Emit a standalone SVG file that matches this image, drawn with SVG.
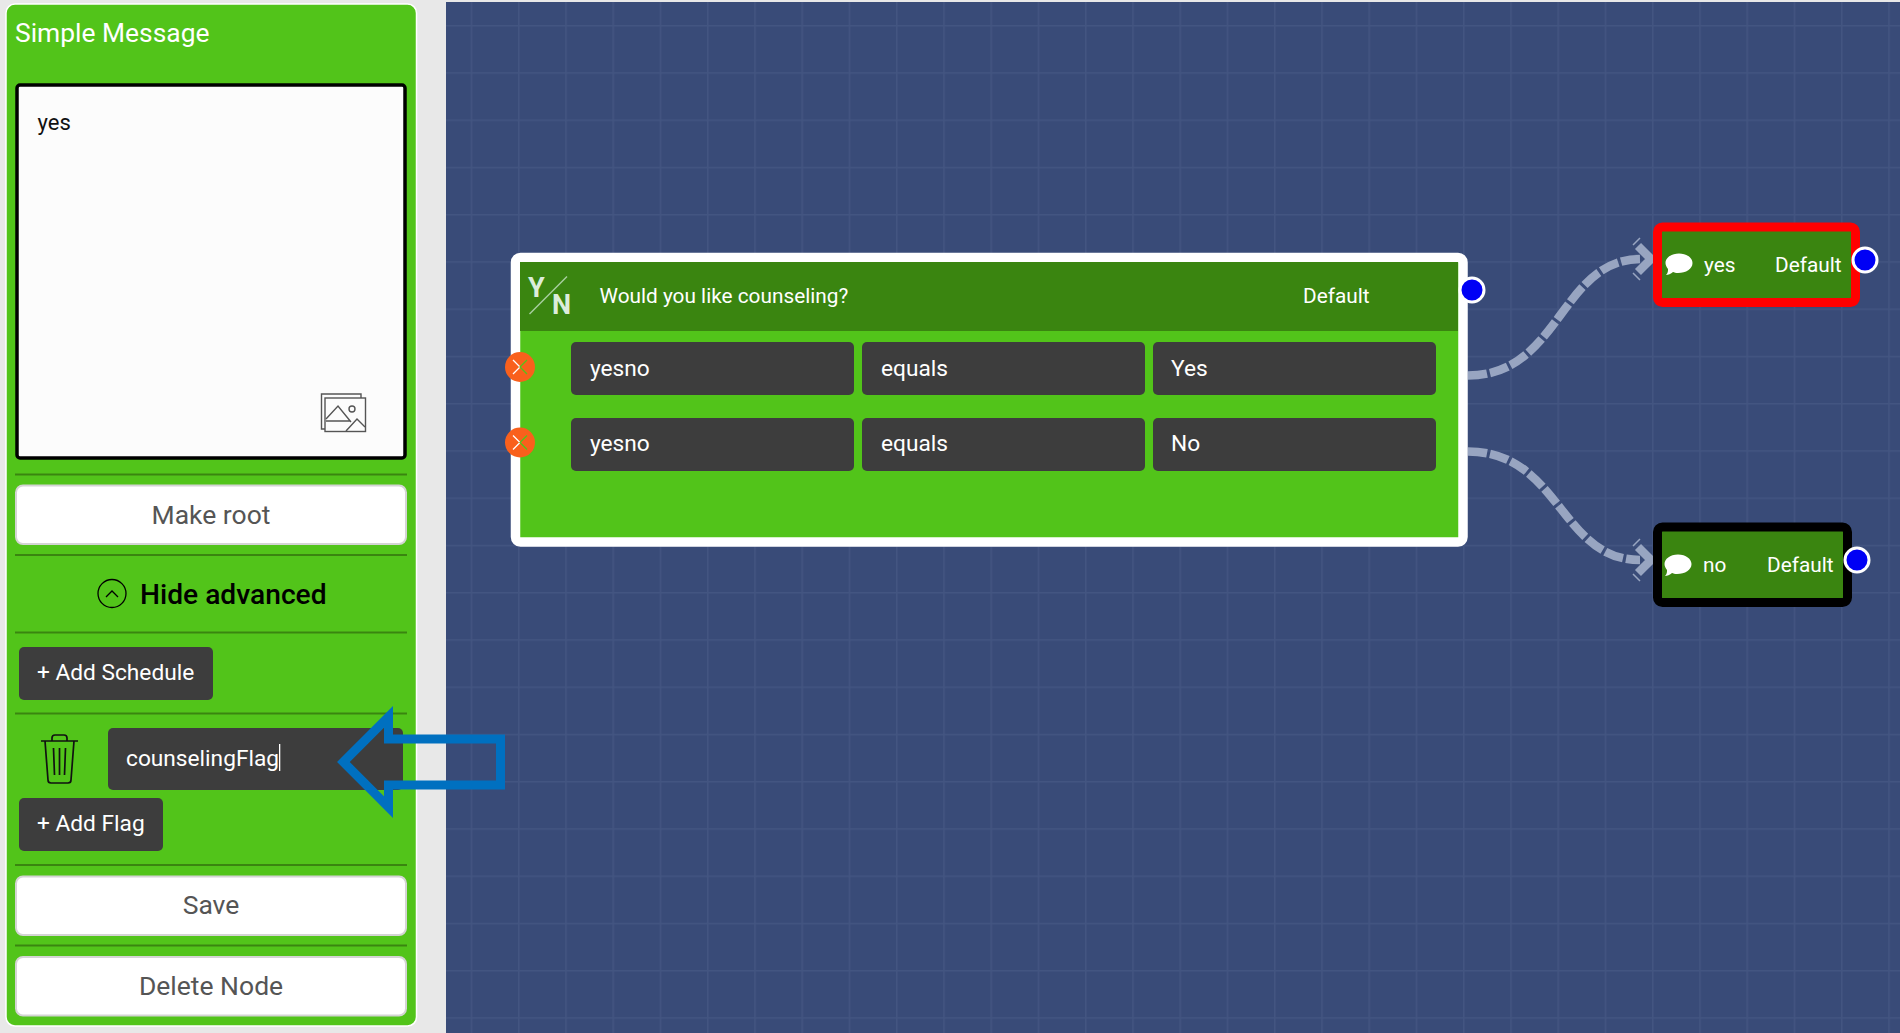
<svg xmlns="http://www.w3.org/2000/svg" width="1900" height="1033" viewBox="0 0 1900 1033">
<style>
text{font-family:Roboto,"Liberation Sans",sans-serif;fill:#fff}
.btn{fill:#fff;stroke:#d4d4d4;stroke-width:2}
.btxt{font-size:26.500px;fill:#555;text-anchor:middle}
.dark{fill:#3d3d3d}
.div{stroke:#3a8510;stroke-width:2}
.t23{font-size:22.700px}
.t20{font-size:20.800px}
.t24{font-size:22.700px}
.conn{fill:none;stroke:#98a5c1;stroke-width:8.500;stroke-dasharray:19 3}
.head{fill:none;stroke:#98a5c1;stroke-width:8.500}
.tick{fill:none;stroke:#98a5c1;stroke-width:1.500}
.port{fill:#0000f5;stroke:#fff;stroke-width:3}
.oport{fill:#f9601c}
.hdr{fill:#3a8510}
.ic{fill:none;stroke:#555;stroke-width:1.400}
</style>
<defs>
<pattern id="grid" x="470.7" y="25" width="47.25" height="47.25" patternUnits="userSpaceOnUse">
<rect width="47.25" height="47.25" fill="#394b78"/>
<path d="M0 0V47.25M0 0H47.25" stroke="#435581" stroke-width="3" fill="none"/>
</pattern>
<path id="bubble" d="M0-10.500C8-10.500 13.500-6 13.500-1C13.500 5 7 9 -1 9C-3 9 -5 8.500 -6 8C-8 10 -11 11 -13 11C-11 9 -11 7 -11 5C-12.500 3 -13.500 1 -13.500 -1C-13.500 -6 -8 -10.500 0 -10.500Z" fill="#fff"/>
</defs>
<rect width="1900" height="1033" fill="#e8e8e8"/>
<rect x="446" y="2" width="1454" height="1031" fill="url(#grid)"/>

<g id="panel">
<rect x="6" y="4" width="410.500" height="1022" rx="9" fill="#52c41a" stroke="#fff" stroke-width="1.500"/>
<text x="15" y="42" font-size="26.400px">Simple Message</text>
<rect x="17" y="85" width="388" height="373" rx="3" fill="#fcfcfc" stroke="#000" stroke-width="3.500"/>
<text x="37.500" y="130" font-size="22px" style="fill:#111">yes</text>
<g id="image-icon" class="ic">
<path d="M361 398V394H321.500V429H325"/>
<rect x="325" y="398" width="40.500" height="33.500"/>
<path d="M326 419L338 406L351 422M346 431L357 419L365 427M326 421H350"/>
<circle cx="352" cy="409" r="3"/>
</g>
<line class="div" x1="15" y1="474.500" x2="407" y2="474.500"/>
<rect class="btn" x="16" y="485.500" width="390" height="58.500" rx="7"/>
<text class="btxt" x="211" y="524">Make root</text>
<line class="div" x1="15" y1="555" x2="407" y2="555"/>
<circle cx="112" cy="593.500" r="14" fill="none" stroke="#000" stroke-width="1.300"/>
<path d="M106 597L112 591L118 597" fill="none" stroke="#000" stroke-width="1.300"/>
<text x="140" y="604" font-size="28.200px" font-weight="500" style="fill:#000">Hide advanced</text>
<line class="div" x1="15" y1="632.500" x2="407" y2="632.500"/>
<rect class="dark" x="19" y="647" width="194" height="53" rx="5"/>
<text x="37" y="680" class="t24">+ Add Schedule</text>
<line class="div" x1="15" y1="713.500" x2="407" y2="713.500"/>
<g id="trash" fill="none" stroke="#111" stroke-width="1.700">
<path d="M41 741H78M52 741V738Q52 735 55 735H64Q67 735 67 738V741M45 741L48 780Q48 783 51 783H68Q71 783 71 780L74 741M53.500 748L54.500 775M59.500 748V775M65.500 748L64.500 775"/>
</g>
<rect class="dark" x="108" y="728" width="295" height="62" rx="5"/>
<text x="126" y="765.500" class="t24">counselingFlag</text>
<rect x="279" y="744" width="1.300" height="27" fill="#fff"/>
<rect class="dark" x="19" y="798" width="144" height="53" rx="5"/>
<text x="37" y="830.500" class="t24">+ Add Flag</text>
<line class="div" x1="15" y1="865" x2="407" y2="865"/>
<rect class="btn" x="16" y="876.500" width="390" height="58.500" rx="7"/>
<text class="btxt" x="211" y="914">Save</text>
<line class="div" x1="15" y1="945.500" x2="407" y2="945.500"/>
<rect class="btn" x="16" y="957" width="390" height="58.500" rx="7"/>
<text class="btxt" x="211" y="995">Delete Node</text>
</g>

<g id="connectors">
<path class="conn" d="M1468 375.500C1560 375.500 1560 260 1640 259"/>
<path class="head" d="M1638 246L1651 259L1638 272"/>
<path class="tick" d="M1633 245L1640 238M1633 273L1640 280"/>
<path class="conn" d="M1468 451.500C1560 451.500 1560 560 1640 560"/>
<path class="head" d="M1638 547L1651 560L1638 573"/>
<path class="tick" d="M1633 546L1640 539M1633 574L1640 581"/>
</g>

<g id="node-question">
<rect x="515.500" y="257.500" width="947.500" height="284.500" rx="5" fill="#52c41a" stroke="#fff" stroke-width="9.500"/>
<rect class="hdr" x="520" y="262" width="938" height="69"/>
<text x="528" y="297" font-size="27px" font-weight="700" style="fill:#dceddb">Y</text>
<text x="552" y="314" font-size="27px" font-weight="700" style="fill:#dceddb">N</text>
<line x1="529.500" y1="314" x2="567" y2="276.500" stroke="#a9cfa0" stroke-width="1.500"/>
<text x="599.500" y="303" class="t20">Would you like counseling?</text>
<text x="1303" y="303" class="t20">Default</text>
<rect class="dark" x="571" y="342" width="283" height="53" rx="5"/>
<rect class="dark" x="862" y="342" width="283" height="53" rx="5"/>
<rect class="dark" x="1153" y="342" width="283" height="53" rx="5"/>
<text x="590" y="376" class="t23">yesno</text>
<text x="881" y="376" class="t23">equals</text>
<text x="1171" y="376" class="t23">Yes</text>
<rect class="dark" x="571" y="418" width="283" height="53" rx="5"/>
<rect class="dark" x="862" y="418" width="283" height="53" rx="5"/>
<rect class="dark" x="1153" y="418" width="283" height="53" rx="5"/>
<text x="590" y="451" class="t23">yesno</text>
<text x="881" y="451" class="t23">equals</text>
<text x="1171" y="451" class="t23">No</text>
<circle class="oport" cx="520" cy="367" r="15"/>
<path d="M513 360L520 367L513 374" fill="none" stroke="#fff" stroke-width="1.300"/>
<path d="M527 360L520 367L527 374" fill="none" stroke="#52c41a" stroke-width="1.300"/>
<circle class="oport" cx="520" cy="442.500" r="15"/>
<path d="M513 435.500L520 442.500L513 449.500" fill="none" stroke="#fff" stroke-width="1.300"/>
<path d="M527 435.500L520 442.500L527 449.500" fill="none" stroke="#52c41a" stroke-width="1.300"/>
<circle class="port" cx="1472" cy="290" r="12"/>
</g>

<g id="node-yes">
<rect x="1657.500" y="227" width="198" height="75.500" rx="5" fill="#3a8510" stroke="#f00" stroke-width="9"/>
<use href="#bubble" x="1679" y="264"/>
<text x="1704" y="272" class="t20">yes</text>
<text x="1775" y="272" class="t20">Default</text>
<circle class="port" cx="1865" cy="260" r="12"/>
</g>

<g id="node-no">
<rect x="1657.500" y="527" width="190" height="75.500" rx="5" fill="#3a8510" stroke="#000" stroke-width="9"/>
<use href="#bubble" x="1678" y="565"/>
<text x="1703" y="572" class="t20">no</text>
<text x="1767" y="572" class="t20">Default</text>
<circle class="port" cx="1857" cy="560" r="12"/>
</g>

<polygon id="callout-arrow" points="343.400,762 388.500,716.900 388.500,739 500.500,739 500.500,785 388.500,785 388.500,807.100" fill="none" stroke="#0070c0" stroke-width="9" stroke-miterlimit="10"/>
</svg>
